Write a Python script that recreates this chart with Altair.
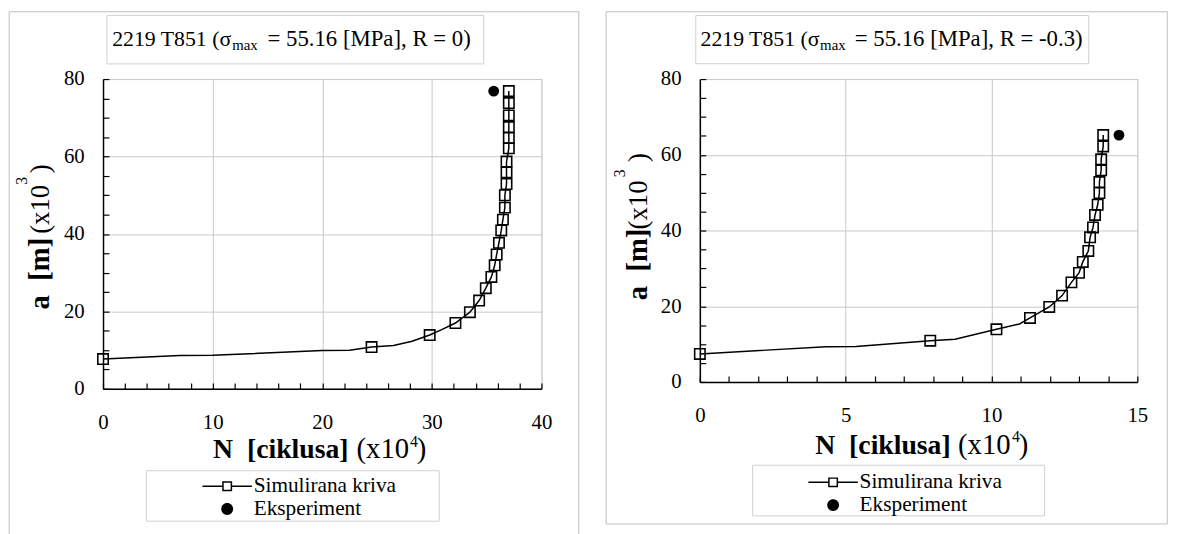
import altair as alt
import pandas as pd

FONT = "Liberation Serif, Times New Roman, serif"
GRID = "#c8c8c8"
FRAME = "#bfbfbf"
BOX = "#d0d0d0"
SP = "\u00a0"

# ---------------- data: left panel (R = 0) ----------------
L_sim_n = [0, 24.5, 29.8, 32.15, 33.47, 34.31, 34.92, 35.43, 35.73, 35.91, 36.12, 36.33,
           36.48, 36.66, 36.66, 36.81, 36.81, 36.81, 37.02, 37.02, 37.02, 37.02, 37.02, 37.02]
L_sim_a = [7.7, 10.8, 13.9, 17.0, 19.8, 22.8, 26.0, 28.9, 31.9, 34.7, 37.7, 40.9,
           43.7, 46.8, 50.0, 52.9, 55.9, 58.7, 62.1, 64.8, 67.6, 70.6, 73.8, 76.9]
L_knot_n = [7, 10, 20, 22.5, 26.5, 28.2, 30.9]
L_knot_a = [8.6, 8.65, 9.9, 9.95, 11.2, 12.3, 15.3]
L_exp_n = [35.64]
L_exp_a = [76.9]

# ---------------- data: right panel (R = -0.3) ----------------
R_sim_n = [0, 7.9, 10.17, 11.32, 11.98, 12.42, 12.74, 13.0, 13.13, 13.32, 13.38, 13.48,
           13.55, 13.64, 13.7, 13.7, 13.76, 13.76, 13.83, 13.83]
R_sim_a = [7.4, 10.9, 13.9, 16.9, 19.8, 22.8, 26.3, 28.8, 31.7, 34.6, 38.2, 40.8,
           44.1, 46.8, 49.9, 52.8, 55.9, 58.8, 62.2, 65.2]
R_knot_n = [4.33, 5.35, 8.75, 10.96]
R_knot_a = [9.3, 9.35, 11.3, 15.3]
R_exp_n = [14.37]
R_exp_a = [65.2]

SERIES = ["Simulirana kriva", "Eksperiment"]

# legend symbols (unit path scaled by sqrt(size)/2 -> 1 unit = 5 px at size 100)
SYM_SIM = ("M-5,-0.15L-1,-0.15L-1,0.15L-5,0.15Z"
           "M1,-0.15L5,-0.15L5,0.15L1,0.15Z"
           "M-1,-1L1,-1L1,1L-1,1Z"
           "M-0.7,-0.7L-0.7,0.7L0.7,0.7L0.7,-0.7Z")
SYM_EXP = "M-1.2,0A1.2,1.2 0 1,1 1.2,0A1.2,1.2 0 1,1 -1.2,0Z"

one = alt.Data(values=[{"k": 0}])


def txt(s, x, y, size, bold=False, align="left", angle=0):
    return alt.Chart(one).mark_text(
        text=s, font=FONT, fontSize=size, fontWeight="bold" if bold else "normal",
        align=align, baseline="alphabetic", angle=angle, color="black"
    ).encode(x=alt.value(x), y=alt.value(y))


def box(x, y, x2, y2, color):
    return alt.Chart(one).mark_rect(fillOpacity=0, stroke=color, strokeWidth=1).encode(
        x=alt.value(x), x2=alt.value(x2), y=alt.value(y), y2=alt.value(y2))


def panel(c):
    W, H = c["W"], c["H"]
    xs = alt.Scale(domain=[0, c["xmax"]], nice=False)
    ys = alt.Scale(domain=[0, 80], nice=False)
    sim = pd.DataFrame({"N": c["sim_n"], "a": c["sim_a"]})
    knots = pd.DataFrame({"N": c["knot_n"], "a": c["knot_a"]})
    curve = pd.concat([sim, knots]).sort_values(["a", "N"]).reset_index(drop=True)
    curve["i"] = range(len(curve))
    exp = pd.DataFrame({"N": c["exp_n"], "a": c["exp_a"]})

    main_x = alt.Axis(values=c["xvals"], grid=True, gridColor=GRID, gridWidth=1, ticks=False,
                      domainColor="black", domainWidth=1.5, labelFont=FONT, labelFontSize=21,
                      labelColor="black", labelPadding=23, labelFlush=False, title=None)
    main_y = alt.Axis(values=[0, 20, 40, 60, 80], grid=True, gridColor=GRID, gridWidth=1, ticks=False,
                      domainColor="black", domainWidth=1.5, labelFont=FONT, labelFontSize=21,
                      labelColor="black", labelPadding=19, labelFlush=False, title=None)
    tick_x = alt.Axis(orient="top", offset=-H, values=c["xticks"], labels=False, grid=False,
                      domain=False, ticks=True, tickSize=6, tickColor="black", tickWidth=1.2, title=None)
    tick_y = alt.Axis(orient="right", offset=-W, values=list(range(0, 81, 5)), labels=False, grid=False,
                      domain=False, ticks=True, tickSize=6, tickColor="black", tickWidth=1.2, title=None)

    line = alt.Chart(curve).mark_line(color="black", strokeWidth=1.5).encode(
        x=alt.X("N:Q", scale=xs, axis=main_x),
        y=alt.Y("a:Q", scale=ys, axis=main_y),
        order=alt.Order("i:Q"))
    marks = alt.Chart(sim).mark_point(shape="square", filled=False, size=110, color="black",
                                      strokeWidth=1.6, opacity=1).encode(
        x=alt.X("N:Q", scale=xs, axis=tick_x),
        y=alt.Y("a:Q", scale=ys, axis=tick_y))
    expm = alt.Chart(exp).mark_point(shape="circle", filled=True, size=120, color="black",
                                     opacity=1).encode(
        x=alt.X("N:Q", scale=xs, axis=None),
        y=alt.Y("a:Q", scale=ys, axis=None))

    leg = alt.Chart(pd.DataFrame({"s": SERIES})).mark_point(
        filled=True, color="black", strokeWidth=0, opacity=1, size=100, clip=True).encode(
        x=alt.value(-200), y=alt.value(-200),
        shape=alt.Shape("s:N", scale=alt.Scale(domain=SERIES, range=[SYM_SIM, SYM_EXP]),
                        legend=alt.Legend(title=None, orient="none", legendX=c["legX"], legendY=c["legY"],
                                          direction="vertical", symbolSize=100, symbolStrokeWidth=0,
                                          symbolFillColor="black", symbolOpacity=1, symbolOffset=20,
                                          labelFont=FONT, labelFontSize=21.5, labelColor="black",
                                          labelOffset=16, rowPadding=0, padding=0, labelLimit=400)))

    t = c["t"]
    xt = c["xt"]
    yt = c["yt"]
    layers = [
        box(*c["frame"], FRAME),
        box(*c["tbox"], BOX),
        txt(c["title1"], t[0], t[1], 22),
        txt("max", t[2], t[3], 15),
        txt(c["title3"], t[4], t[1], 23),
        box(*c["lbox"], BOX),
        # x axis title
        txt("N" + SP + SP + "[ciklusa]", xt[0], xt[1], 28, bold=True),
        txt("(x10", xt[2], xt[1], 29),
        txt("4", xt[3], xt[4], 16),
        txt(")", xt[5], xt[1], 29),
        # y axis title (rotated)
        txt("a" + SP + SP + "[m]", yt[0], yt[1], 29, bold=True, angle=270),
        txt("(x10", yt[0], yt[2], 27, angle=270),
        txt("3", yt[3], yt[4], 16, angle=270),
        txt(")", yt[0], yt[5], 27, angle=270),
        line, marks, expm, leg,
    ]
    return alt.layer(*layers).resolve_axis(x="independent", y="independent").properties(width=W, height=H)


left = panel(dict(
    W=443, H=313, xmax=40, xvals=[0, 10, 20, 30, 40], xticks=list(range(0, 41, 2)),
    sim_n=L_sim_n, sim_a=L_sim_a, knot_n=L_knot_n, knot_a=L_knot_a, exp_n=L_exp_n, exp_a=L_exp_a,
    frame=(-94.8, -68, 480.7, 470),
    tbox=(4, -64.3, 384.7, -15.3),
    title1="2219 T851 (σ", title3="= 55.16 [MPa], R = 0)", t=(9.3, -33.1, 130.5, -29.3, 166.2),
    lbox=(43.7, 395.7, 339.7, 446.7), legX=94.7, legY=400.7,
    xt=(111.2, 383, 256.1, 310.2, 371.4, 317.0),
    yt=(-54.5, 232.7, 156.4, -76.3, 106.7, 95.2),
))

right = panel(dict(
    W=442, H=306, xmax=15, xvals=[0, 5, 10, 15], xticks=list(range(0, 16, 1)),
    sim_n=R_sim_n, sim_a=R_sim_a, knot_n=R_knot_n, knot_a=R_knot_a, exp_n=R_exp_n, exp_a=R_exp_a,
    frame=(-94.7, -68, 472.3, 449.5),
    tbox=(-4.1, -64.2, 392.9, -15.5),
    title1="2219 T851 (σ", title3="= 55.16 [MPa], R = -0.3)", t=(0.7, -33.5, 121.5, -29.5, 156.5),
    lbox=(53.3, 390.2, 348.3, 441.3), legX=103.9, legY=396.7,
    xt=(116.6, 378.8, 260.8, 315.3, 367.2, 322.3),
    yt=(-53.7, 223.5, 151.9, -75.5, 99.2, 83.9),
))

chart = alt.hconcat(left, right, spacing=25).resolve_scale(shape="independent").resolve_legend(
    shape="independent").properties(padding=0).configure_view(stroke=None).configure(background="white")

chart.save("out.html", embed_options={"renderer": "svg", "actions": False})
